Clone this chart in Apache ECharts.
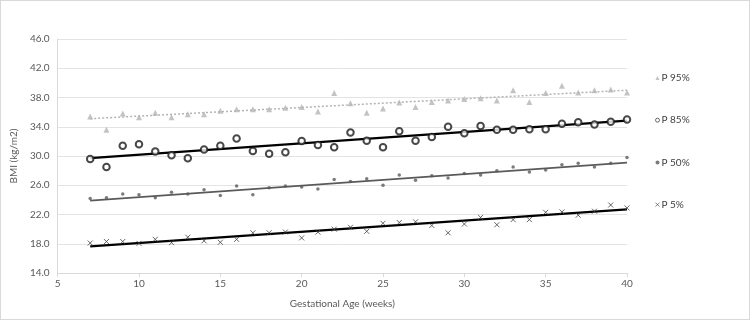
<!DOCTYPE html>
<html>
<head>
<meta charset="utf-8">
<script src="https://cdn.jsdelivr.net/npm/echarts@6/dist/echarts.min.js"></script>
<style>
  html, body { margin: 0; padding: 0; background: #fff; }
  #bmiChart { width: 748px; height: 318px; border: 1px solid #d9d9d9; }
</style>
</head>
<body>
<div id="bmiChart"></div>
<script>
// gestational weeks on the x axis
const weeks = [7, 8, 9, 10, 11, 12, 13, 14, 15, 16, 17, 18, 19, 20, 21, 22, 23,
  24, 25, 26, 27, 28, 29, 30, 31, 32, 33, 34, 35, 36, 37, 38, 39, 40]

// BMI percentiles per week
const p95 = [35.4, 33.6, 35.8, 35.3, 35.9, 35.3, 35.7, 35.7, 36.2, 36.4, 36.4, 36.4, 36.6, 36.7, 36.1, 38.6, 37.2,
  35.9, 36.5, 37.3, 36.7, 37.4, 37.6, 37.8, 37.9, 37.6, 39.0, 37.4, 38.6, 39.6, 38.7, 39.0, 39.1, 38.7]
const p85 = [29.6, 28.5, 31.4, 31.6, 30.6, 30.1, 29.7, 30.9, 31.4, 32.4, 30.7, 30.3, 30.5, 32.05, 31.5, 31.2, 33.2,
  32.1, 31.2, 33.4, 32.1, 32.6, 34.0, 33.1, 34.1, 33.6, 33.6, 33.65, 33.65, 34.4, 34.6, 34.3, 34.7, 35.0]
const p50 = [24.2, 24.3, 24.8, 24.7, 24.3, 25.05, 24.8, 25.4, 24.6, 25.9, 24.7, 25.65, 25.9, 25.75, 25.5, 26.8, 26.5,
  26.9, 26.0, 27.4, 26.7, 27.3, 27.0, 27.6, 27.4, 28.0, 28.5, 27.8, 28.1, 28.8, 29.0, 28.5, 29.0, 29.8]
const p5 = [18.1, 18.3, 18.3, 18.05, 18.6, 18.15, 18.9, 18.4, 18.2, 18.6, 19.5, 19.5, 19.6, 18.8, 19.6, 20.0, 20.25,
  19.7, 20.8, 20.9, 21.0, 20.5, 19.5, 20.7, 21.6, 20.6, 21.3, 21.3, 22.3, 22.35, 21.9, 22.45, 23.3, 22.9]

// linear trend lines, start / end values
const trendWeeks = [7, 40]
const p95Trend = [35.1, 39.0]
const p85Trend = [29.7, 34.85]
const p50Trend = [23.9, 29.1]
const p5Trend = [17.65, 22.7]

const legendNames = ['P 95%', 'P 85%', 'P 50%', 'P 5%']

const FONT = 'Lato'
const TEXT = '#595959'
const X_PATH = 'path://M0,0L10,10M10,0L0,10'

function pairs(xs, ys) {
  return xs.map((x, i) => [x, ys[i]])
}

function trendSeries(name, ys, lineStyle) {
  return {
    name: name,
    type: 'line',
    data: pairs(trendWeeks, ys),
    showSymbol: false,
    silent: true,
    lineStyle: lineStyle,
    z: 1
  }
}

let chartDom = document.getElementById('bmiChart')
let myChart = echarts.init(chartDom)
let option

option = {
  animation: false,
  textStyle: { fontFamily: FONT },
  grid: {
    left: 53,
    right: 122,
    top: 38,
    bottom: 46
  },
  legend: {
    data: [
      { name: legendNames[0], icon: 'triangle', itemStyle: { color: '#b4b4b4', borderWidth: 0 } },
      { name: legendNames[1], icon: 'circle', itemStyle: { color: '#fff', borderColor: '#1a1a1a', borderWidth: 0.8 } },
      { name: legendNames[2], icon: 'circle', itemStyle: { color: '#5a5a5a', borderWidth: 0 } },
      { name: legendNames[3], icon: X_PATH, itemStyle: { color: 'none', borderColor: '#404040', borderWidth: 0.8 } }
    ],
    orient: 'vertical',
    left: 647,
    top: 67,
    itemGap: 32.2,
    itemWidth: 4,
    itemHeight: 4,
    selectedMode: false,
    textStyle: { fontFamily: FONT, fontSize: 10, color: '#404040', padding: [0, 0, 0, -3] }
  },
  xAxis: {
    type: 'value',
    min: 5,
    max: 40,
    interval: 5,
    name: 'Gestational Age (weeks)',
    nameLocation: 'middle',
    nameGap: 26,
    nameTextStyle: { fontFamily: FONT, fontSize: 10, color: TEXT },
    axisLine: { lineStyle: { color: '#d9d9d9' } },
    axisTick: { show: true, length: 4, lineStyle: { color: '#d9d9d9' } },
    axisLabel: { fontFamily: FONT, fontSize: 10, color: TEXT, margin: 6 },
    splitLine: { show: false }
  },
  yAxis: {
    type: 'value',
    min: 14,
    max: 46,
    interval: 4,
    name: 'BMI (kg/m2)',
    nameLocation: 'middle',
    nameGap: 33,
    nameTextStyle: { fontFamily: FONT, fontSize: 10, color: TEXT },
    axisLine: { show: true, lineStyle: { color: '#d9d9d9' } },
    axisTick: { show: false },
    axisLabel: {
      fontFamily: FONT,
      fontSize: 10,
      color: TEXT,
      margin: 8,
      formatter: (v) => v.toFixed(1)
    },
    splitLine: { lineStyle: { color: '#e3e3e3' } }
  },
  series: [
    {
      name: 'P 95%',
      type: 'scatter',
      data: pairs(weeks, p95),
      symbol: 'triangle',
      symbolSize: 6,
      itemStyle: { color: '#b4b4b4' },
      z: 3
    },
    {
      name: 'P 85%',
      type: 'scatter',
      data: pairs(weeks, p85),
      symbol: 'emptyCircle',
      symbolSize: 6.5,
      itemStyle: { color: '#1a1a1a', borderColor: '#1a1a1a', borderWidth: 1 },
      z: 3
    },
    {
      name: 'P 50%',
      type: 'scatter',
      data: pairs(weeks, p50),
      symbol: 'circle',
      symbolSize: 3.5,
      itemStyle: { color: '#5a5a5a' },
      z: 3
    },
    {
      name: 'P 5%',
      type: 'scatter',
      data: pairs(weeks, p5),
      symbol: X_PATH,
      symbolSize: 5,
      itemStyle: { color: 'none', borderColor: '#404040', borderWidth: 1 },
      z: 3
    },
    trendSeries('p95 trend', p95Trend, { color: '#b4b4b4', width: 1.5, type: [2, 2] }),
    trendSeries('p85 trend', p85Trend, { color: '#000000', width: 2.2 }),
    trendSeries('p50 trend', p50Trend, { color: '#5a5a5a', width: 1.8 }),
    trendSeries('p5 trend', p5Trend, { color: '#000000', width: 2.2 })
  ]
}

option && myChart.setOption(option)
</script>
</body>
</html>
